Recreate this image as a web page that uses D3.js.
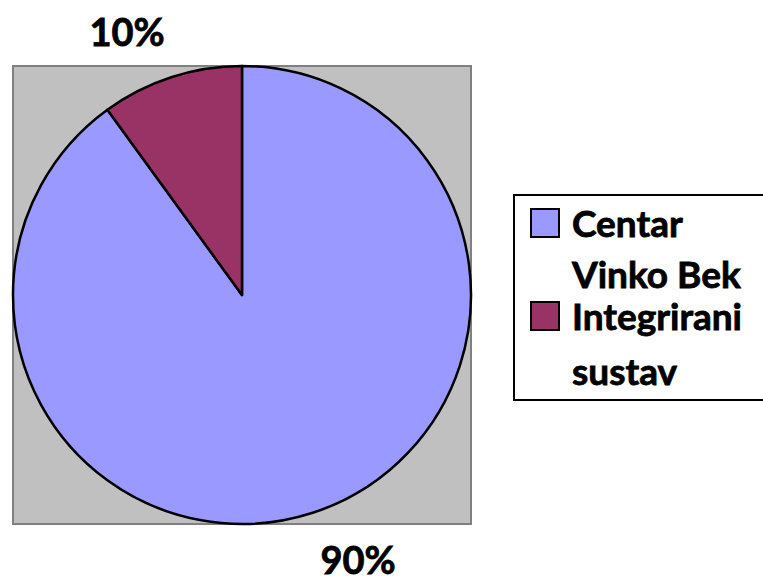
<!DOCTYPE html>
<html><head><meta charset="utf-8">
<script src="https://cdn.jsdelivr.net/npm/d3@7"></script>
<style>body{margin:0;background:#fff}svg{display:block}</style>
</head><body>
<script>
const categories = ["Centar Vinko Bek", "Integrirani sustav"];
const legendLines = [["Centar", "Vinko Bek"], ["Integrirani", "sustav"]];
const values = [90, 10];
const labels = ["90%", "10%"];
const colors = ["#9999FF", "#993366"];

const W = 763, H = 580;
const svg = d3.select("body").append("svg").attr("width", W).attr("height", H);
const font = "Lato, 'Open Sans', sans-serif";

// plot area
const plot = {x: 13, y: 66, w: 458, h: 458};
svg.append("rect").attr("x", plot.x).attr("y", plot.y).attr("width", plot.w).attr("height", plot.h)
  .attr("fill", "#C0C0C0").attr("stroke", "#808080").attr("stroke-width", 2);

const cx = 242, cy = 295, r = 229;
const pie = d3.pie().sort(null).value(d => d)(values);
const arc = d3.arc().innerRadius(0).outerRadius(r);
const g = svg.append("g").attr("transform", `translate(${cx},${cy})`);
g.selectAll("path").data(pie).join("path")
  .attr("d", arc).attr("fill", (d, i) => colors[i])
  .attr("stroke", "#000").attr("stroke-width", 2.5).attr("stroke-linejoin", "round");

// data labels
const labelPos = [[358, 574], [127, 46]];
labels.forEach((t, i) => {
  svg.append("text").attr("x", labelPos[i][0]).attr("y", labelPos[i][1])
    .attr("text-anchor", "middle").attr("font-family", font).attr("font-weight", "bold")
    .attr("font-size", 38).attr("fill", "#000").attr("stroke", "#000").attr("stroke-width", 0.8).text(t);
});

// legend
svg.append("rect").attr("x", 514).attr("y", 195).attr("width", 300).attr("height", 205)
  .attr("fill", "#fff").attr("stroke", "#000").attr("stroke-width", 2);
const baselines = [[237, 288], [330, 385]];
categories.forEach((c, i) => {
  svg.append("rect").attr("x", 531).attr("y", baselines[i][0] - 28).attr("width", 28).attr("height", 28)
    .attr("fill", colors[i]).attr("stroke", "#000").attr("stroke-width", 2);
  legendLines[i].forEach((ln, j) => {
    svg.append("text").attr("x", 572).attr("y", baselines[i][j])
      .attr("font-family", font).attr("font-weight", "bold").attr("font-size", 37)
      .attr("fill", "#000").attr("stroke", "#000").attr("stroke-width", 0.8).text(ln);
  });
});
</script>
</body></html>
